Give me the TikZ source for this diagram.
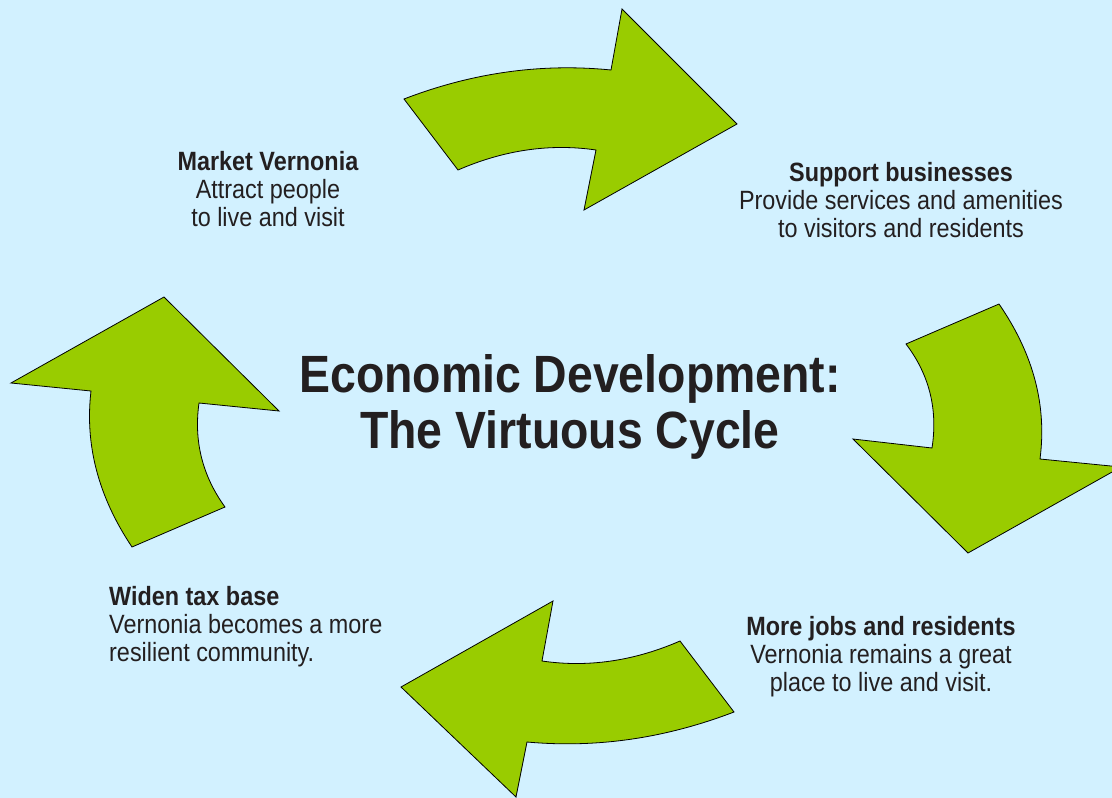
\documentclass[tikz,border=0pt]{standalone}
\usepackage{fontspec}
\setmainfont{Liberation Sans}
\definecolor{bgblue}{RGB}{210,241,255}
\definecolor{leaf}{RGB}{153,204,0}
\definecolor{ink}{RGB}{35,31,32}
% text stretched slightly taller than wide
\newcommand{\tallbox}[2][c]{\scalebox{1}[1.13]{\begin{tabular}{@{}#1@{}}#2\end{tabular}}}
\begin{document}
\begin{tikzpicture}[x=1pt,y=-1pt,
  cyclearrow/.style={fill=leaf,draw=black,line width=0.8pt,line join=miter},
  caption/.style={inner sep=0pt,text=ink,font=\fontsize{23.4}{24.8}\selectfont},
  headline/.style={inner sep=0pt,text=ink,font=\bfseries\fontsize{46.4}{49.6}\selectfont}]
\useasboundingbox (0,0) rectangle (1112,798);
\fill[bgblue] (0,0) rectangle (1112,798);
\clip (0,0) rectangle (1112,798);

% top arrow, pointing right
\draw[cyclearrow] (404,99) .. controls (472.3,72.7) and (541.3,63) .. (611,70)
  -- (622,9) -- (737,124) -- (584,210) -- (596,150)
  .. controls (550,143.3) and (504,150) .. (458,170) -- cycle;

% right arrow, pointing down
\draw[cyclearrow] (999,304) -- (906,344)
  .. controls (929.3,374.7) and (938,409.3) .. (932,448)
  -- (853,439) -- (968,553) -- (1121,467) -- (1040,459)
  .. controls (1047,405.3) and (1033.3,353.7) .. cycle;

% bottom arrow, pointing left
\draw[cyclearrow] (734,712) -- (680,641)
  .. controls (634,661) and (588,667.7) .. (542,661)
  -- (553,601) -- (401,687) -- (516,797) -- (527,742)
  .. controls (596.7,748.3) and (665.3,738.3) .. cycle;

% left arrow, pointing up
\draw[cyclearrow] (132,547) -- (225,507)
  .. controls (202.3,475.7) and (193.7,441) .. (199,403)
  -- (279,411) -- (164,297) -- (11,383) -- (91,391)
  .. controls (84.7,444.7) and (98.3,496.7) .. cycle;

\node[headline] (title) at (570,409) {\tallbox{Economic Development:\\The Virtuous Cycle}};

\node[caption] (market) at (268,193) {\tallbox{\textbf{Market Vernonia}\\Attract people\\ to live and visit}};
\node[caption] (support) at (901,204) {\tallbox{\textbf{Support businesses}\\Provide services and amenities\\to visitors and residents}};
\node[caption] (jobs) at (881,658) {\tallbox{\textbf{More jobs and residents}\\Vernonia remains a great\\place to live and visit.}};
\node[caption,anchor=west] (tax) at (109,628) {\tallbox[l]{\textbf{Widen tax base}\\Vernonia becomes a more\\resilient community.}};
\end{tikzpicture}
\end{document}
